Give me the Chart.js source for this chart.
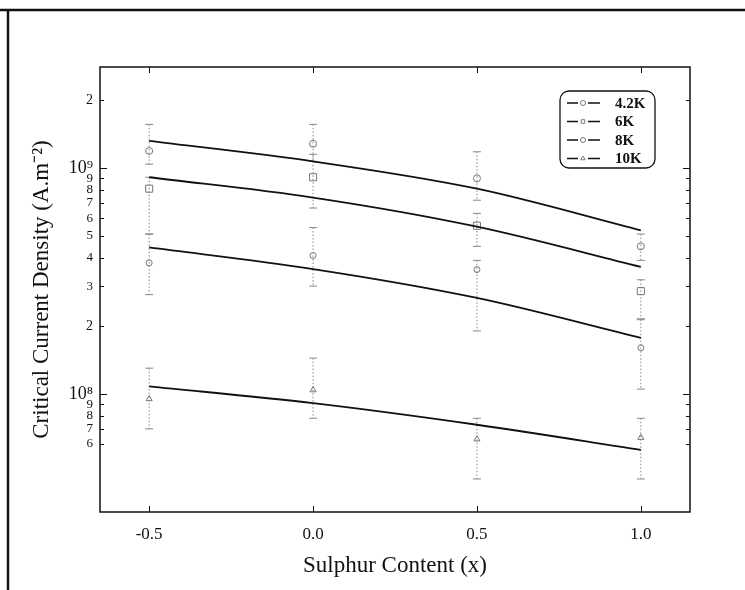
<!DOCTYPE html>
<html>
<head>
<meta charset="utf-8">
<script src="https://cdn.jsdelivr.net/npm/chart.js@4.4.1/dist/chart.umd.min.js"></script>
<style>
  html, body { margin: 0; padding: 0; background: #fff; }
  #wrap { width: 745px; height: 590px; position: relative; }
</style>
</head>
<body>
<div id="wrap"><canvas id="c" width="745" height="590"></canvas></div>
<script>
// Sulphur content of the samples
const sulphur = [-0.5, 0.0, 0.5, 1.0];
const temps = ['4.2K', '6K', '8K', '10K'];

// Fitted Jc curves (A/m^2)
const fit42 = [1.32e9, 1.07e9, 8.1e8, 5.3e8];
const fit6  = [9.1e8, 7.4e8, 5.5e8, 3.65e8];
const fit8  = [4.45e8, 3.57e8, 2.66e8, 1.77e8];
const fit10 = [1.08e8, 9.1e7, 7.3e7, 5.65e7];

// Measured Jc with lower / upper error limits
const jc42   = [1.19e9, 1.28e9, 9.0e8, 4.5e8];
const lo42   = [1.04e9, 1.07e9, 7.2e8, 3.9e8];
const hi42   = [1.56e9, 1.56e9, 1.18e9, 5.1e8];
const jc6    = [8.1e8, 9.1e8, 5.55e8, 2.85e8];
const lo6    = [5.1e8, 6.65e8, 4.5e8, 2.15e8];
const hi6    = [9.1e8, 1.15e9, 6.3e8, 3.2e8];
const jc8    = [3.8e8, 4.1e8, 3.55e8, 1.6e8];
const lo8    = [2.75e8, 3.0e8, 1.9e8, 1.05e8];
const hi8    = [5.1e8, 5.45e8, 3.9e8, 2.13e8];
const jc10   = [9.5e7, 1.04e8, 6.3e7, 6.4e7];
const lo10   = [7.0e7, 7.8e7, 4.2e7, 4.2e7];
const hi10   = [1.3e8, 1.44e8, 7.8e7, 7.8e7];

// Axis ticks
const xTickVals = [-0.5, 0.0, 0.5, 1.0];
const yTickVals = [6e7, 7e7, 8e7, 9e7, 1e8, 2e8, 3e8, 4e8, 5e8, 6e8, 7e8, 8e8, 9e8, 1e9, 2e9];

const SERIF = '"Liberation Serif", "Times New Roman", serif';
const pts = (ys) => sulphur.map((x, i) => ({ x: x, y: ys[i] }));

const fitSet = (ys) => ({
  type: 'line', data: pts(ys), borderColor: '#111', borderWidth: 1.8,
  pointRadius: 0, cubicInterpolationMode: 'monotone', fill: false, order: 1
});
const markSet = (label, ys, lo, hi, style, r) => ({
  type: 'scatter', label: label, data: pts(ys), showLine: false,
  pointStyle: style, pointRadius: r, borderColor: '#777', borderWidth: 1,
  backgroundColor: 'rgba(255,255,255,0)', errLo: lo, errHi: hi, order: 2
});

const datasets = [
  fitSet(fit42), fitSet(fit6), fitSet(fit8), fitSet(fit10),
  markSet(temps[0], jc42, lo42, hi42, 'circle', 3.5),
  markSet(temps[1], jc6, lo6, hi6, 'rect', 5),
  markSet(temps[2], jc8, lo8, hi8, 'circle', 3),
  markSet(temps[3], jc10, lo10, hi10, 'triangle', 3.5)
];

// Outer figure border (top and left rules)
const borderPlugin = {
  id: 'figBorder',
  beforeDraw(chart) {
    const c = chart.ctx;
    c.save();
    c.fillStyle = '#fff';
    c.fillRect(0, 0, chart.width, chart.height);
    c.strokeStyle = '#111';
    c.lineWidth = 2.5;
    c.beginPath();
    c.moveTo(0, 10); c.lineTo(chart.width, 10);
    c.moveTo(8, 10); c.lineTo(8, chart.height);
    c.stroke();
    c.restore();
  }
};

// Dotted error bars with caps
const errorBarPlugin = {
  id: 'errBars',
  beforeDatasetsDraw(chart) {
    const c = chart.ctx, ys = chart.scales.y, xs = chart.scales.x;
    c.save();
    c.strokeStyle = '#888';
    c.lineWidth = 1;
    chart.data.datasets.forEach((ds) => {
      if (!ds.errLo) return;
      ds.data.forEach((p, i) => {
        const px = xs.getPixelForValue(p.x);
        const yl = ys.getPixelForValue(ds.errLo[i]);
        const yh = ys.getPixelForValue(ds.errHi[i]);
        c.setLineDash([1.5, 2]);
        c.beginPath(); c.moveTo(px, yh); c.lineTo(px, yl); c.stroke();
        c.setLineDash([]);
        c.beginPath();
        c.moveTo(px - 4, yh); c.lineTo(px + 4, yh);
        c.moveTo(px - 4, yl); c.lineTo(px + 4, yl);
        c.stroke();
      });
    });
    c.restore();
  }
};

// Plot frame with inward ticks on all four sides, plus boxed legend
const framePlugin = {
  id: 'frame',
  afterDraw(chart) {
    const c = chart.ctx, a = chart.chartArea, xs = chart.scales.x, ys = chart.scales.y;
    c.save();
    c.strokeStyle = '#111';
    c.lineWidth = 1.5;
    c.strokeRect(a.left, a.top, a.right - a.left, a.bottom - a.top);
    c.lineWidth = 1;
    c.beginPath();
    xTickVals.forEach((v) => {
      const px = Math.round(xs.getPixelForValue(v)) + 0.5;
      c.moveTo(px, a.bottom); c.lineTo(px, a.bottom - 6);
      c.moveTo(px, a.top); c.lineTo(px, a.top + 6);
    });
    yTickVals.forEach((v) => {
      const py = Math.round(ys.getPixelForValue(v)) + 0.5;
      const len = (v === 1e8 || v === 1e9) ? 7 : 4;
      c.moveTo(a.left, py); c.lineTo(a.left + len, py);
      c.moveTo(a.right, py); c.lineTo(a.right - len, py);
    });
    c.stroke();

    // legend
    const lx = 560, ly = 91, lw = 95, lh = 77, rr = 9;
    c.lineWidth = 1.3;
    c.beginPath();
    c.moveTo(lx + rr, ly);
    c.arcTo(lx + lw, ly, lx + lw, ly + lh, rr);
    c.arcTo(lx + lw, ly + lh, lx, ly + lh, rr);
    c.arcTo(lx, ly + lh, lx, ly, rr);
    c.arcTo(lx, ly, lx + lw, ly, rr);
    c.closePath();
    c.stroke();
    const marks = chart.data.datasets.filter((d) => d.errLo);
    c.textBaseline = 'middle';
    marks.forEach((d, i) => {
      const y = ly + 12 + i * 18.5;
      c.strokeStyle = '#111';
      c.lineWidth = 1.6;
      c.beginPath();
      c.moveTo(lx + 7, y); c.lineTo(lx + 18, y);
      c.moveTo(lx + 28, y); c.lineTo(lx + 40, y);
      c.stroke();
      c.strokeStyle = '#777';
      c.fillStyle = '#fff';
      c.lineWidth = 1;
      Chart.helpers.drawPoint(c, { pointStyle: d.pointStyle, radius: 2.5, borderWidth: 1 }, lx + 23, y);
      c.fillStyle = '#111';
      c.font = 'bold 15px ' + SERIF;
      c.fillText(d.label, lx + 55, y + 1);
    });
    c.restore();
  }
};

new Chart(document.getElementById('c'), {
  data: { datasets: datasets },
  plugins: [borderPlugin, errorBarPlugin, framePlugin],
  options: {
    responsive: false,
    animation: false,
    layout: { padding: { left: 0, top: 67, right: 55, bottom: 0 } },
    plugins: { legend: { display: false }, tooltip: { enabled: false } },
    scales: {
      x: {
        type: 'linear', min: -0.65, max: 1.15,
        afterBuildTicks: (s) => { s.ticks = xTickVals.map((v) => ({ value: v })); },
        afterFit: (s) => { s.height = 78; },
        grid: { display: false, drawTicks: false }, border: { display: false },
        ticks: {
          padding: 12, color: '#111', autoSkip: false, maxRotation: 0,
          font: { family: SERIF, size: 17 },
          callback: (v) => Number(v).toFixed(1)
        },
        title: {
          display: true, text: 'Sulphur Content (x)', color: '#111',
          font: { family: SERIF, size: 23 }, padding: { top: 0, bottom: 10 }
        }
      },
      y: {
        type: 'logarithmic', min: 3e7, max: 2.8e9,
        afterBuildTicks: (s) => { s.ticks = yTickVals.map((v) => ({ value: v })); },
        afterFit: (s) => { s.width = 100; },
        grid: { display: false, drawTicks: false }, border: { display: false },
        ticks: {
          padding: 7, color: '#111', autoSkip: false,
          font: (ctx) => {
            const v = ctx.tick ? ctx.tick.value : 0;
            if (v === 1e8 || v === 1e9) return { family: SERIF, size: 18 };
            if (v === 2e9 || v === 2e8) return { family: SERIF, size: 14 };
            return { family: SERIF, size: 13 };
          },
          callback: (v) => {
            if (v === 1e9) return '10\u2079';
            if (v === 1e8) return '10\u2078';
            const m = v / Math.pow(10, Math.floor(Math.log10(v) + 1e-9));
            return String(Math.round(m));
          }
        },
        title: {
          display: true, text: 'Critical Current Density (A.m\u207B\u00B2)', color: '#111',
          font: { family: SERIF, size: 23 }, padding: { top: 28, bottom: 0 }
        }
      }
    }
  }
});
</script>
</body>
</html>
